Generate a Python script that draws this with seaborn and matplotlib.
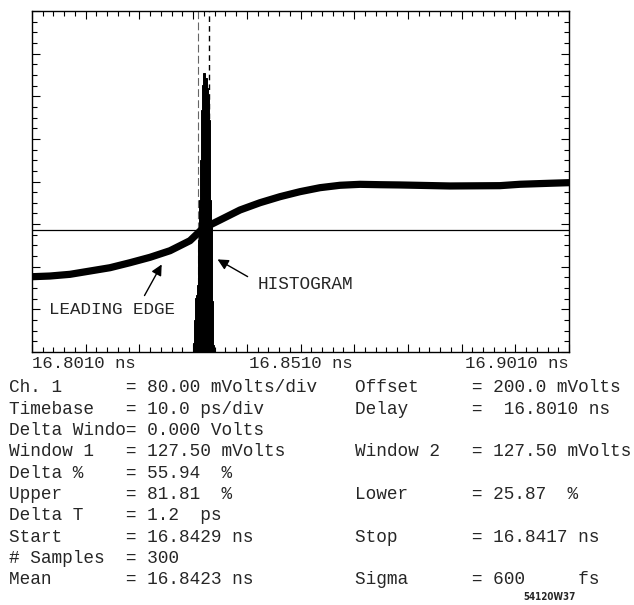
import numpy as np
import pandas as pd
import matplotlib
matplotlib.use("Agg")
import matplotlib.pyplot as plt
from matplotlib.ticker import FixedLocator, FixedFormatter
import seaborn as sns

# ---------------- data ----------------
# waveform (time in ns, amplitude in mV)
wave_t = [16.80100, 16.80435, 16.80808, 16.81180, 16.81552, 16.81925, 16.82297,
          16.82670, 16.83042, 16.83260, 16.83415, 16.83601, 16.83973, 16.84346,
          16.84718, 16.85090, 16.85463, 16.85835, 16.86208, 16.86580, 16.86953,
          16.87884, 16.88815, 16.89187, 16.89746, 16.90100]
wave_mv = [21.3, 22.6, 25.8, 32.0, 38.2, 47.6, 57.7,
           70.1, 88.9, 109.9, 118.4, 127.7, 146.5, 160.2,
           171.5, 180.9, 188.4, 192.9, 194.7, 194.0, 193.5,
           191.6, 192.2, 194.8, 196.7, 197.8]

# time histogram (bin centres in ns, relative counts in %)
hist_t = [16.8310, 16.8312, 16.8314, 16.8316, 16.8318, 16.8320, 16.8322, 16.8324,
          16.8326, 16.8328, 16.8330, 16.8332, 16.8334, 16.8336, 16.8338, 16.8340,
          16.8342, 16.8344, 16.8346, 16.8348]
hist_cnt = [2.6, 9.4, 15.8, 16.7, 19.6, 32.8, 44.6, 56.3, 70.9, 78.2,
            81.8, 81.8, 80.4, 77.4, 75.4, 68.0, 44.6, 36.7, 15.0, 2.0]
hist_bin_w = 0.0002

window_level_mv = 109.0
marker_start_ns = 16.8319
marker_stop_ns = 16.83396

t_min, t_max = 16.8010, 16.9010
v_min, v_max = -120.0, 520.0
x_tick_labels = ["16.8010 ns", "16.8510 ns", "16.9010 ns"]

left_rows = [("Ch. 1", "80.00 mVolts/div"), ("Timebase", "10.0 ps/div"),
             ("Delta Windo", "0.000 Volts"), ("Window 1", "127.50 mVolts"),
             ("Delta %", "55.94  %"), ("Upper", "81.81  %"), ("Delta T", "1.2  ps"),
             ("Start", "16.8429 ns"), ("# Samples", "300"), ("Mean", "16.8423 ns")]
right_rows = [(0, "Offset", "200.0 mVolts"), (1, "Delay", " 16.8010 ns"),
              (3, "Window 2", "127.50 mVolts"), (5, "Lower", "25.87  %"),
              (7, "Stop", "16.8417 ns"), (9, "Sigma", "600     fs")]
footer = "54120W37"

# ---------------- figure ----------------
sns.set_style("ticks")
plt.rcParams["font.family"] = ["Liberation Mono", "DejaVu Sans Mono"]

W, H = 634, 605
fig = plt.figure(figsize=(W / 100, H / 100), dpi=100)
L, R, T, B = 32, 569, 11, 352
ax = fig.add_axes([L / W, 1 - B / H, (R - L) / W, (B - T) / H])
ax.set_xlim(t_min, t_max)
ax.set_ylim(v_min, v_max)

# histogram on twin axis (marker lines underneath it)
ax2 = ax.twinx()
ax2.axvline(marker_start_ns, color="#666666", linewidth=0.8, linestyle=(0, (7, 3)),
            zorder=0.5)
ax2.axvline(marker_stop_ns, color="black", linewidth=1.0, linestyle=(0, (4, 3)),
            zorder=0.5)
hdf = pd.DataFrame({"t": hist_t, "cnt": hist_cnt})
lo = hist_t[0] - hist_bin_w / 2
hi = hist_t[-1] + hist_bin_w / 2
sns.histplot(data=hdf, x="t", weights="cnt", bins=len(hist_t), binrange=(lo, hi),
             ax=ax2, element="bars", shrink=1, fill=True, color="black", alpha=1,
             linewidth=0.7, edgecolor="black", zorder=2)
ax2.set_ylim(0, 100)
ax2.set_xlim(t_min, t_max)
ax2.set_yticks([])
ax2.set_ylabel("")
for s in ax2.spines.values():
    s.set_visible(False)

# waveform
df = pd.DataFrame({"t": wave_t, "mv": wave_mv})
sns.lineplot(data=df, x="t", y="mv", ax=ax, color="black", linewidth=5.2,
             estimator=None, sort=True)
ax.axhline(window_level_mv, color="black", linewidth=0.9)

ax.set_xlabel("")
ax.set_ylabel("")

# ticks
xmaj = list(np.linspace(t_min, t_max, 11))
xmin_ = list(np.linspace(t_min, t_max, 51))
ax.xaxis.set_major_locator(FixedLocator(xmaj))
ax.xaxis.set_minor_locator(FixedLocator(xmin_))
labels = [""] * 11
labels[0], labels[5], labels[10] = x_tick_labels
ax.xaxis.set_major_formatter(FixedFormatter(labels))
ax.yaxis.set_major_locator(FixedLocator(list(np.linspace(v_min, v_max, 9))))
ax.yaxis.set_minor_locator(FixedLocator(list(np.linspace(v_min, v_max, 33))))
ax.set_yticklabels([])
ax.tick_params(which="both", direction="in", top=True, right=True, color="black", width=0.8)
ax.tick_params(which="major", length=6)
ax.tick_params(which="minor", length=3.5)
ax.tick_params(axis="x", which="major", pad=3, labelsize=12.5)
tl = ax.get_xticklabels()
tl[0].set_ha("left")
tl[10].set_ha("right")
for s in ax.spines.values():
    s.set_linewidth(1.0)
    s.set_color("black")
ax.set_zorder(ax2.get_zorder() + 1)
ax.patch.set_visible(False)

# annotations
ax.annotate("", xy=(16.8254, 48.9), xytext=(16.8217, -18.6),
            arrowprops=dict(arrowstyle="-|>", color="black", lw=1, mutation_scale=16))
ax.text(16.8042, -39.3, "LEADING EDGE", ha="left", va="center", fontsize=12.6)
ax.annotate("", xy=(16.8351, 56.4), xytext=(16.8416, 18.9),
            arrowprops=dict(arrowstyle="-|>", color="black", lw=1, mutation_scale=16))
ax.text(16.8431, 7.6, "HISTOGRAM", ha="left", va="center", fontsize=12.8)

# text block
y0, dy = 388, 21.3
for i, (lab, val) in enumerate(left_rows):
    fig.text(9 / W, 1 - (y0 + i * dy) / H, f"{lab:<11}= {val}", ha="left", va="center",
             fontsize=12.8)
for i, lab, val in right_rows:
    fig.text(355 / W, 1 - (y0 + i * dy) / H, f"{lab:<11}= {val}", ha="left", va="center",
             fontsize=12.8)
fig.text(550 / W, 1 - 597 / H, footer, ha="center", va="center", fontsize=7,
         family="DejaVu Sans", weight="bold", stretch="condensed")

fig.savefig("out.png", dpi=100, facecolor="white")
